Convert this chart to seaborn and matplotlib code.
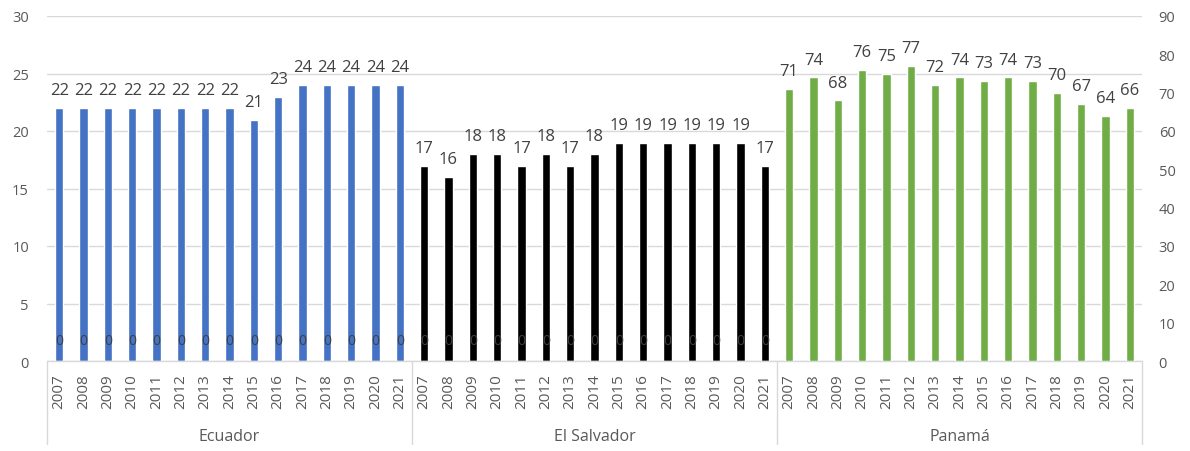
import numpy as np
import pandas as pd
import matplotlib
matplotlib.use("Agg")
import matplotlib.pyplot as plt
import matplotlib.transforms as mtransforms
import seaborn as sns

# ------------------------------------------------------------
# Data
# ------------------------------------------------------------
years = [str(y) for y in range(2007, 2022)]
countries = ["Ecuador", "El Salvador", "Panamá"]

ecuador = [22, 22, 22, 22, 22, 22, 22, 22, 21, 23, 24, 24, 24, 24, 24]
el_salvador = [17, 16, 18, 18, 17, 18, 17, 18, 19, 19, 19, 19, 19, 19, 17]
panama = [71, 74, 68, 76, 75, 77, 72, 74, 73, 74, 73, 70, 67, 64, 66]

# the secondary series is 0 under Ecuador and El Salvador, Excel labels it "0"
zero_labels = ["0"] * 30

colors = {"Ecuador": "#4472C4", "El Salvador": "#000000", "Panamá": "#70AD47"}

slots = [f"{c}|{y}" for c in countries for y in years]

left_df = pd.DataFrame({
    "slot": [f"Ecuador|{y}" for y in years] + [f"El Salvador|{y}" for y in years],
    "value": ecuador + el_salvador,
    "country": ["Ecuador"] * 15 + ["El Salvador"] * 15,
})
right_df = pd.DataFrame({
    "slot": [f"Panamá|{y}" for y in years],
    "value": panama,
    "country": ["Panamá"] * 15,
})

# ------------------------------------------------------------
# Plot
# ------------------------------------------------------------
sns.set_style("white")
plt.rcParams["font.family"] = ["Open Sans", "DejaVu Sans"]

text_col = "#595959"
label_col = "#404040"
grid_col = "#D9D9D9"

fig = plt.figure(figsize=(11.9, 4.52), dpi=100)
ax = fig.add_axes([47 / 1190, 1 - 362 / 452, (1142 - 47) / 1190, (362 - 17) / 452])
ax2 = ax.twinx()

sns.barplot(data=left_df, x="slot", y="value", hue="country", order=slots,
            palette=colors, dodge=False, width=0.34, saturation=1,
            legend=False, ax=ax)
sns.barplot(data=right_df, x="slot", y="value", hue="country", order=slots,
            palette=colors, dodge=False, width=0.34, saturation=1,
            legend=False, ax=ax2)

ax.set_xlim(-0.5, len(slots) - 0.5)
ax.set_ylim(0, 30)
ax2.set_ylim(0, 90)
ax.set_yticks(np.arange(0, 31, 5))
ax2.set_yticks(np.arange(0, 91, 10))

ax.set_xticks(range(len(slots)))
ax.set_xticklabels(years * 3, rotation=90)

ax.set_xlabel("")
ax.set_ylabel("")
ax2.set_ylabel("")

ax.yaxis.grid(True, color=grid_col, lw=1)
ax.set_axisbelow(True)
for a in (ax, ax2):
    for s in ["top", "left", "right", "bottom"]:
        a.spines[s].set_visible(False)

ax.tick_params(axis="y", length=0, pad=13, labelsize=10.5, labelcolor=text_col)
ax2.tick_params(axis="y", length=0, pad=12, labelsize=10.5, labelcolor=text_col)
ax.tick_params(axis="x", length=0, pad=9, labelsize=11, labelcolor=text_col)

# value labels
for a in (ax, ax2):
    for cont in a.containers:
        a.bar_label(cont, fmt="%.0f", padding=7, fontsize=12, color=label_col)

# "0" labels near the base of the first two groups
for i, t in enumerate(zero_labels):
    ax.text(i, 1.75, t, ha="center", va="center", fontsize=10, color=label_col)

# category axis: baseline, group separators and group names
trans = mtransforms.blended_transform_factory(ax.transData, ax.transAxes)
ax.plot([-0.5, len(slots) - 0.5], [0, 0], transform=trans, color=grid_col,
        lw=1, clip_on=False)
for b in [-0.5, 14.5, 29.5, 44.5]:
    ax.plot([b, b], [0, -0.24], transform=trans, color=grid_col, lw=1,
            clip_on=False)
for k, c in enumerate(countries):
    ax.text(k * 15 + 7, -0.217, c, transform=trans, ha="center", va="center",
            fontsize=11.5, color=text_col)

fig.savefig("out.png", dpi=100)
